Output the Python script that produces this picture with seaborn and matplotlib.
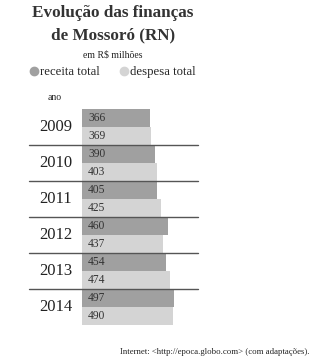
import pandas as pd
import seaborn as sns
import matplotlib.pyplot as plt
from matplotlib.lines import Line2D
from matplotlib.transforms import blended_transform_factory

# Data (R$ milhões)
anos = ["2009", "2010", "2011", "2012", "2013", "2014"]
receita = [366, 390, 405, 460, 454, 497]
despesa = [369, 403, 425, 437, 474, 490]

df = pd.DataFrame({
    "ano": anos * 2,
    "valor": receita + despesa,
    "tipo": ["receita total"] * len(anos) + ["despesa total"] * len(anos),
})

sns.set_style("white")
plt.rcParams["font.family"] = ["Liberation Serif", "DejaVu Serif"]

cores = {"receita total": "#a0a0a0", "despesa total": "#d4d4d4"}
W, H = 317, 361
fig = plt.figure(figsize=(W / 100, H / 100), dpi=100)
ax = fig.add_axes([82 / W, 36 / H, 235 / W, 216 / H])

sns.barplot(data=df, y="ano", x="valor", hue="tipo", palette=cores,
            orient="h", width=1.0, dodge=True, ax=ax, legend=False,
            saturation=1, linewidth=0)

ax.set_xlim(0, 235 / 0.186)
ax.set_ylim(len(anos) - 0.5, -0.5)
ax.set_axis_off()

# value labels at the start of each bar
for cont in ax.containers:
    for patch in cont:
        ax.text(patch.get_x() + 32, patch.get_y() + patch.get_height() / 2,
                f"{patch.get_width():.0f}", ha="left", va="center",
                fontsize=8.3, color="#333333")

# year labels and separators
trans = blended_transform_factory(fig.transFigure, ax.transData)
for i, a in enumerate(anos):
    ax.text(56 / W, i, a, transform=trans, ha="center", va="center",
            fontsize=12, color="#222222")
    if i < len(anos) - 1:
        ax.axhline(i + 0.5, xmin=-53 / 235, xmax=116 / 235, color="#555555",
                   lw=1, clip_on=False)

# titles
fig.text(113 / W, 1 - 13 / H, "Evolução das finanças", ha="center", va="center",
         fontsize=12.3, fontweight="bold", color="#333333")
fig.text(113 / W, 1 - 35 / H, "de Mossoró (RN)", ha="center", va="center",
         fontsize=12.3, fontweight="bold", color="#333333")
fig.text(113 / W, 1 - 55 / H, "em R$ milhões", ha="center", va="center",
         fontsize=7, color="#222222")
fig.text(55 / W, 1 - 98 / H, "ano", ha="center", va="center",
         fontsize=7, color="#222222")

handles = [Line2D([], [], marker="o", ls="", color=cores[k], markersize=6)
           for k in ["receita total", "despesa total"]]
fig.legend(handles, ["receita total", "despesa total"], ncol=2, frameon=False,
           loc="center", bbox_to_anchor=(113 / W, 1 - 72 / H), fontsize=9.2,
           handlelength=0.6, handletextpad=0.15, columnspacing=1.6,
           borderpad=0, borderaxespad=0)

fig.text(310 / W, 1 - 352 / H, "Internet: <http://epoca.globo.com> (com adaptações).",
         ha="right", va="center", fontsize=6.3, color="#222222")

fig.savefig("out.png", dpi=100)
